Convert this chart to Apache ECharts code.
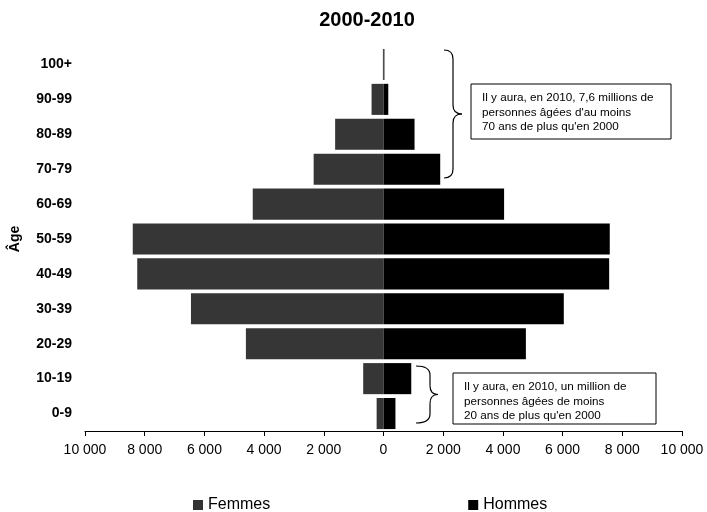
<!DOCTYPE html>
<html>
<head>
<meta charset="utf-8">
<script src="https://cdn.jsdelivr.net/npm/echarts@6/dist/echarts.min.js"></script>
<style>
  html, body { margin: 0; padding: 0; background: #fff; }
  #chart { width: 707px; height: 512px; }
</style>
</head>
<body>
<div id="chart"></div>
<script>
// Age groups, from youngest to oldest (bottom to top)
const ageGroups = ['0-9', '10-19', '20-29', '30-39', '40-49', '50-59', '60-69', '70-79', '80-89', '90-99', '100+'];
// Change in population between 2000 and 2010 (thousands)
const femmes = [230, 680, 4610, 6450, 8250, 8400, 4380, 2340, 1620, 400, 20];
const hommes = [400, 930, 4770, 6040, 7560, 7580, 4040, 1900, 1040, 160, 30];
const xTicks = { min: -10000, max: 10000, interval: 2000 };

const FONT = '"Liberation Sans", Arial, sans-serif';

function fmt(v) {
  const a = Math.abs(v);
  return a >= 1000 ? Math.floor(a / 1000) + ' ' + String(a % 1000).padStart(3, '0') : String(a);
}

const chart = echarts.init(document.getElementById('chart'));

// Right-facing curly brace from (x, y1) to (x, y2), spine at x+dx, tip at x+tip
function brace(x, y1, y2, dx, tip) {
  const m = (y1 + y2) / 2, s = x + dx, r = 9;
  const st = { fill: 'none', stroke: '#000', lineWidth: 1.2 };
  const curve = (a, b, c, d, cx, cy) => ({
    type: 'bezierCurve', shape: { x1: a, y1: b, x2: c, y2: d, cpx1: cx, cpy1: cy }, style: st
  });
  const line = (a, b, c, d) => ({ type: 'line', shape: { x1: a, y1: b, x2: c, y2: d }, style: st });
  return [
    curve(x, y1, s, y1 + r, s, y1),
    line(s, y1 + r, s, m - r),
    curve(s, m - r, x + tip, m, s, m),
    curve(x + tip, m, s, m + r, s, m),
    line(s, m + r, s, y2 - r),
    curve(s, y2 - r, x, y2, s, y2)
  ];
}

function note(left, top, w, h, lines) {
  return [
    { type: 'rect', shape: { x: left, y: top, width: w, height: h },
      style: { fill: '#fff', stroke: '#000', lineWidth: 1 } },
    { type: 'text', x: left + 11, y: top + 7,
      style: { text: lines.join('\n'), font: '11.7px ' + FONT, fill: '#000', lineHeight: 14.5 } }
  ];
}

chart.setOption({
  animation: false,
  textStyle: { fontFamily: FONT },
  title: {
    text: '2000-2010', left: 362, top: 5, textAlign: 'center',
    textStyle: { fontSize: 20, fontWeight: 'bold', color: '#000', fontFamily: FONT }
  },
  legend: {
    left: 188, top: 492, itemGap: 198, itemWidth: 10, itemHeight: 10,
    textStyle: { fontSize: 16, color: '#000', fontFamily: FONT },
    data: [
      { name: 'Femmes', icon: 'rect', itemStyle: { color: '#333' } },
      { name: 'Hommes', icon: 'rect' }
    ]
  },
  grid: { left: 83, right: 25, top: 47, bottom: 81, containLabel: false },
  xAxis: {
    type: 'value', min: xTicks.min, max: xTicks.max, interval: xTicks.interval,
    splitLine: { show: false },
    axisLine: { show: true, lineStyle: { color: '#000', width: 1 } },
    axisTick: { show: true, length: 5, lineStyle: { color: '#000' } },
    axisLabel: { formatter: fmt, fontSize: 14, color: '#000', margin: 12, fontFamily: FONT }
  },
  yAxis: {
    type: 'category', data: ageGroups,
    name: 'Âge', nameLocation: 'middle', nameGap: 63, nameRotate: 90,
    nameTextStyle: { fontSize: 14, fontWeight: 'bold', color: '#000', fontFamily: FONT },
    axisLine: { show: false }, axisTick: { show: false },
    axisLabel: { fontSize: 14, fontWeight: 'bold', color: '#000', margin: 13, fontFamily: FONT }
  },
  series: [
    {
      name: 'Femmes', type: 'bar', data: femmes.map(v => -v),
      barGap: '-100%', barCategoryGap: '11%',
      itemStyle: { color: '#363636' }
    },
    {
      name: 'Hommes', type: 'bar', data: hommes,
      barGap: '-100%', barCategoryGap: '11%',
      itemStyle: { color: '#000' }
    }
  ],
  graphic: [
    ...brace(444, 50, 178, 9, 18),
    ...note(471, 84, 200, 55, ['Il y aura, en 2010, 7,6 millions de', 'personnes âgées d\'au moins', '70 ans de plus qu\'en 2000']),
    ...brace(416, 366, 423, 14, 22),
    ...note(453, 373, 203, 51, ['Il y aura, en 2010, un million de', 'personnes âgées de moins', '20 ans de plus qu\'en 2000'])
  ]
});
</script>
</body>
</html>
